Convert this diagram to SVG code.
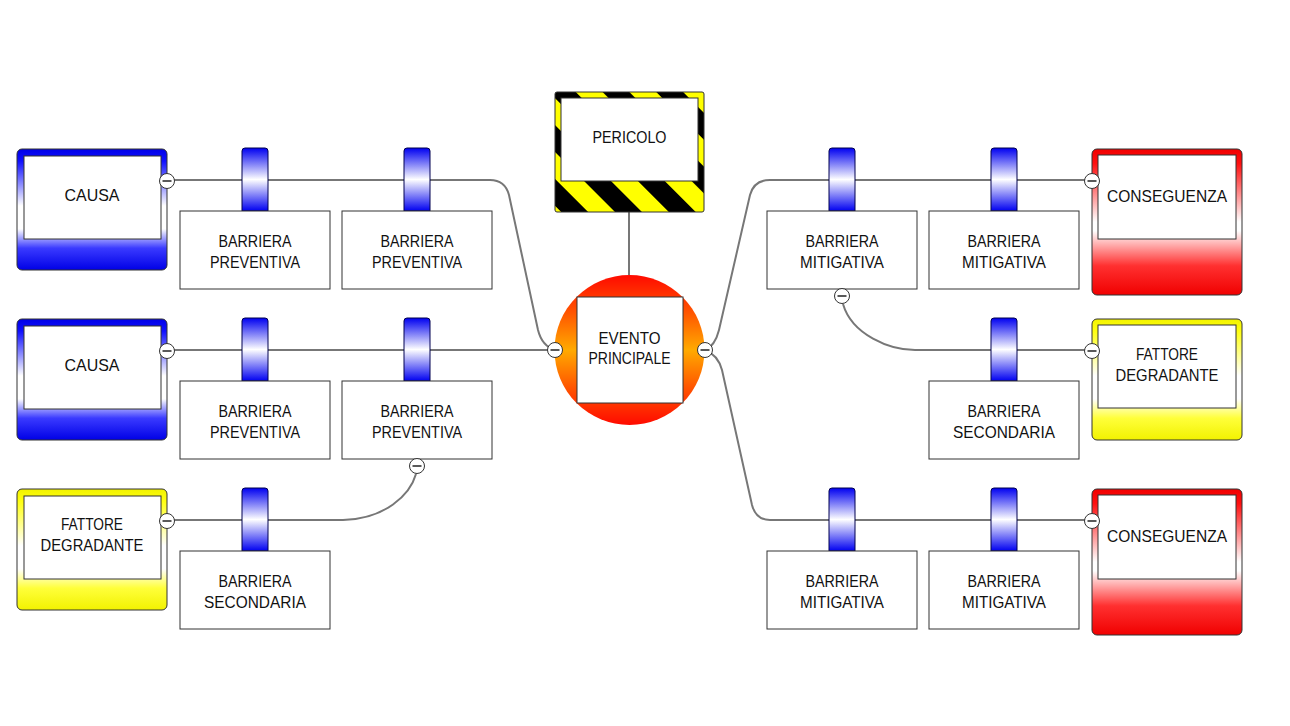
<svg xmlns="http://www.w3.org/2000/svg" width="1290" height="726" viewBox="0 0 1290 726">
<defs>
<linearGradient id="gBlue" x1="0" y1="0" x2="0" y2="1">
<stop offset="0" stop-color="#0000e6"/><stop offset="0.1" stop-color="#1010ff"/><stop offset="0.47" stop-color="#ffffff"/><stop offset="0.66" stop-color="#ffffff"/><stop offset="0.82" stop-color="#3a3aff"/><stop offset="1" stop-color="#0000e6"/>
</linearGradient>
<linearGradient id="gYellow" x1="0" y1="0" x2="0" y2="1">
<stop offset="0" stop-color="#f2f200"/><stop offset="0.1" stop-color="#ffff10"/><stop offset="0.47" stop-color="#ffffff"/><stop offset="0.66" stop-color="#ffffff"/><stop offset="0.82" stop-color="#ffff3a"/><stop offset="1" stop-color="#f2f200"/>
</linearGradient>
<linearGradient id="gRed" x1="0" y1="0" x2="0" y2="1">
<stop offset="0" stop-color="#f00000"/><stop offset="0.1" stop-color="#ff1010"/><stop offset="0.5" stop-color="#ffffff"/><stop offset="0.56" stop-color="#ffffff"/><stop offset="0.8" stop-color="#ff3030"/><stop offset="1" stop-color="#f00000"/>
</linearGradient>
<linearGradient id="gTab" x1="0" y1="0" x2="0" y2="1">
<stop offset="0" stop-color="#0000f0"/><stop offset="0.5" stop-color="#ffffff"/><stop offset="1" stop-color="#0000f0"/>
</linearGradient>
<linearGradient id="gEvent" x1="0" y1="0" x2="0" y2="1">
<stop offset="0" stop-color="#ff0a00"/><stop offset="0.25" stop-color="#ff5500"/><stop offset="0.5" stop-color="#ffaa00"/><stop offset="0.75" stop-color="#ff5500"/><stop offset="1" stop-color="#ff0a00"/>
</linearGradient>
<pattern id="hazard" patternUnits="userSpaceOnUse" width="38" height="38" patternTransform="rotate(-45)">
<rect width="38" height="38" fill="#000"/><rect width="19" height="38" fill="#ffff00"/>
</pattern>
<g id="minus"><circle r="7.5" fill="#fff" stroke="#333" stroke-width="1"/><line x1="-4.5" y1="0" x2="4.5" y2="0" stroke="#222" stroke-width="1.5"/></g>
<g id="tab"><path d="M0,63 V3 Q0,0 3,0 H23 Q26,0 26,3 V63 Z" fill="url(#gTab)" stroke="#000050" stroke-width="1"/></g>
</defs>
<style>
.conn{fill:none;stroke:#777;stroke-width:2}
.box{fill:#fff;stroke:#333;stroke-width:1}
.outer{stroke:#333;stroke-width:1}
text{font-family:"Liberation Sans",Arial,sans-serif;font-size:16.5px;fill:#111;text-anchor:middle}
</style>
<rect width="1290" height="726" fill="#fff"/>

<g id="connectors">
<path class="conn" d="M167,180 H490 Q505,180 509,195 L538,330 Q542,346 555,350"/>
<path class="conn" d="M167,350 H555"/>
<path class="conn" d="M167,520 H343 C385,519 410,495 416,474"/>
<path class="conn" d="M629,212 V275"/>
<path class="conn" d="M705,350 Q715,346 719,330 L750,195 Q754,180 770,180 H1092"/>
<path class="conn" d="M843,304 C852,335 890,350 915,350 H1092"/>
<path class="conn" d="M705,350 Q718,355 722,370 L752,505 Q756,520 770,520 H1092"/>
</g>

<g id="causa1">
<rect class="outer" x="17" y="149" width="150" height="121" rx="5" fill="url(#gBlue)"/>
<rect class="box" x="24" y="156" width="137" height="83"/>
<text x="92" y="201" textLength="55" lengthAdjust="spacingAndGlyphs">CAUSA</text>
<use href="#minus" x="167" y="181"/>
</g>
<g id="causa2">
<rect class="outer" x="17" y="319" width="150" height="121" rx="5" fill="url(#gBlue)"/>
<rect class="box" x="24" y="326" width="137" height="83"/>
<text x="92" y="371" textLength="55" lengthAdjust="spacingAndGlyphs">CAUSA</text>
<use href="#minus" x="167" y="351"/>
</g>
<g id="fattore1">
<rect class="outer" x="17" y="489" width="150" height="121" rx="5" fill="url(#gYellow)"/>
<rect class="box" x="24" y="496" width="137" height="83"/>
<text x="92" y="530" textLength="62" lengthAdjust="spacingAndGlyphs">FATTORE</text>
<text x="92" y="551" textLength="103" lengthAdjust="spacingAndGlyphs">DEGRADANTE</text>
<use href="#minus" x="167" y="521"/>
</g>

<g id="bp1">
<use href="#tab" x="242" y="148"/>
<rect class="box" x="180" y="211" width="150" height="78"/>
<text x="255" y="246.5" textLength="73" lengthAdjust="spacingAndGlyphs">BARRIERA</text><text x="255" y="267.5" textLength="90" lengthAdjust="spacingAndGlyphs">PREVENTIVA</text>
</g>
<g id="bp2">
<use href="#tab" x="404" y="148"/>
<rect class="box" x="342" y="211" width="150" height="78"/>
<text x="417" y="246.5" textLength="73" lengthAdjust="spacingAndGlyphs">BARRIERA</text><text x="417" y="267.5" textLength="90" lengthAdjust="spacingAndGlyphs">PREVENTIVA</text>
</g>
<g id="bp3">
<use href="#tab" x="242" y="318"/>
<rect class="box" x="180" y="381" width="150" height="78"/>
<text x="255" y="416.5" textLength="73" lengthAdjust="spacingAndGlyphs">BARRIERA</text><text x="255" y="437.5" textLength="90" lengthAdjust="spacingAndGlyphs">PREVENTIVA</text>
</g>
<g id="bp4">
<use href="#tab" x="404" y="318"/>
<rect class="box" x="342" y="381" width="150" height="78"/>
<text x="417" y="416.5" textLength="73" lengthAdjust="spacingAndGlyphs">BARRIERA</text><text x="417" y="437.5" textLength="90" lengthAdjust="spacingAndGlyphs">PREVENTIVA</text>
<use href="#minus" x="417" y="466"/>
</g>
<g id="bs1">
<use href="#tab" x="242" y="488"/>
<rect class="box" x="180" y="551" width="150" height="78"/>
<text x="255" y="586.5" textLength="73" lengthAdjust="spacingAndGlyphs">BARRIERA</text><text x="255" y="607.5" textLength="102" lengthAdjust="spacingAndGlyphs">SECONDARIA</text>
</g>

<g id="pericolo">
<rect x="555" y="92" width="149" height="120" rx="2" fill="url(#hazard)" stroke="#333" stroke-width="1"/>
<rect class="box" x="561" y="98" width="137" height="83"/>
<text x="629.5" y="143" textLength="74" lengthAdjust="spacingAndGlyphs">PERICOLO</text>
</g>

<g id="evento">
<circle cx="629.5" cy="350" r="75" fill="url(#gEvent)"/>
<rect class="box" x="577" y="297" width="106" height="106" stroke-width="1.5"/>
<text x="629.5" y="343.5" textLength="62" lengthAdjust="spacingAndGlyphs">EVENTO</text>
<text x="629.5" y="363.5" textLength="82" lengthAdjust="spacingAndGlyphs">PRINCIPALE</text>
<use href="#minus" x="555" y="350"/>
<use href="#minus" x="705" y="350"/>
</g>

<g id="bm1">
<use href="#tab" x="829" y="148"/>
<rect class="box" x="767" y="211" width="150" height="78"/>
<text x="842" y="246.5" textLength="73" lengthAdjust="spacingAndGlyphs">BARRIERA</text><text x="842" y="267.5" textLength="84" lengthAdjust="spacingAndGlyphs">MITIGATIVA</text>
<use href="#minus" x="842" y="296"/>
</g>
<g id="bm2">
<use href="#tab" x="991" y="148"/>
<rect class="box" x="929" y="211" width="150" height="78"/>
<text x="1004" y="246.5" textLength="73" lengthAdjust="spacingAndGlyphs">BARRIERA</text><text x="1004" y="267.5" textLength="84" lengthAdjust="spacingAndGlyphs">MITIGATIVA</text>
</g>
<g id="bs2">
<use href="#tab" x="991" y="318"/>
<rect class="box" x="929" y="381" width="150" height="78"/>
<text x="1004" y="416.5" textLength="73" lengthAdjust="spacingAndGlyphs">BARRIERA</text><text x="1004" y="437.5" textLength="102" lengthAdjust="spacingAndGlyphs">SECONDARIA</text>
</g>
<g id="bm3">
<use href="#tab" x="829" y="488"/>
<rect class="box" x="767" y="551" width="150" height="78"/>
<text x="842" y="586.5" textLength="73" lengthAdjust="spacingAndGlyphs">BARRIERA</text><text x="842" y="607.5" textLength="84" lengthAdjust="spacingAndGlyphs">MITIGATIVA</text>
</g>
<g id="bm4">
<use href="#tab" x="991" y="488"/>
<rect class="box" x="929" y="551" width="150" height="78"/>
<text x="1004" y="586.5" textLength="73" lengthAdjust="spacingAndGlyphs">BARRIERA</text><text x="1004" y="607.5" textLength="84" lengthAdjust="spacingAndGlyphs">MITIGATIVA</text>
</g>

<g id="conseguenza1">
<rect class="outer" x="1092" y="149" width="150" height="146" rx="5" fill="url(#gRed)"/>
<rect class="box" x="1098" y="155" width="138" height="84"/>
<text x="1167" y="201.5" textLength="120" lengthAdjust="spacingAndGlyphs">CONSEGUENZA</text>
<use href="#minus" x="1092" y="181"/>
</g>
<g id="fattore2">
<rect class="outer" x="1092" y="319" width="150" height="121" rx="5" fill="url(#gYellow)"/>
<rect class="box" x="1098" y="325" width="138" height="83"/>
<text x="1167" y="360" textLength="62" lengthAdjust="spacingAndGlyphs">FATTORE</text>
<text x="1167" y="381" textLength="103" lengthAdjust="spacingAndGlyphs">DEGRADANTE</text>
<use href="#minus" x="1092" y="351"/>
</g>
<g id="conseguenza2">
<rect class="outer" x="1092" y="489" width="150" height="146" rx="5" fill="url(#gRed)"/>
<rect class="box" x="1098" y="495" width="138" height="84"/>
<text x="1167" y="541.5" textLength="120" lengthAdjust="spacingAndGlyphs">CONSEGUENZA</text>
<use href="#minus" x="1092" y="521"/>
</g>
</svg>
